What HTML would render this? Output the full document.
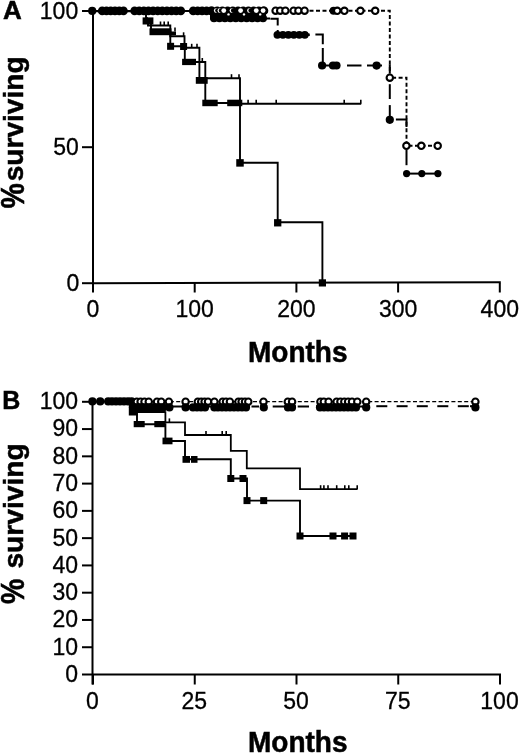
<!DOCTYPE html>
<html><head><meta charset="utf-8"><style>
html,body{margin:0;padding:0;background:#fff;}
svg{display:block;filter:blur(0.4px);}
text{font-family:"Liberation Sans", sans-serif;fill:#000;stroke:#000;stroke-width:0.3px;}
text[font-weight="bold"]{stroke-width:0.5px;}
</style></head><body>
<svg width="520" height="755" viewBox="0 0 520 755">
<line x1="93.00" y1="11.00" x2="93.00" y2="284.20" stroke="#000" stroke-width="2" stroke-linecap="butt"/>
<line x1="92.00" y1="283.20" x2="500.80" y2="282.30" stroke="#000" stroke-width="2" stroke-linecap="butt"/>
<line x1="82.00" y1="11.00" x2="93.00" y2="11.00" stroke="#000" stroke-width="2" stroke-linecap="butt"/>
<line x1="82.00" y1="147.20" x2="93.00" y2="147.20" stroke="#000" stroke-width="2" stroke-linecap="butt"/>
<line x1="82.00" y1="283.20" x2="93.00" y2="283.20" stroke="#000" stroke-width="2" stroke-linecap="butt"/>
<line x1="93.00" y1="283.00" x2="93.00" y2="292.50" stroke="#000" stroke-width="2" stroke-linecap="butt"/>
<line x1="194.70" y1="283.00" x2="194.70" y2="292.50" stroke="#000" stroke-width="2" stroke-linecap="butt"/>
<line x1="296.40" y1="283.00" x2="296.40" y2="292.50" stroke="#000" stroke-width="2" stroke-linecap="butt"/>
<line x1="398.10" y1="283.00" x2="398.10" y2="292.50" stroke="#000" stroke-width="2" stroke-linecap="butt"/>
<line x1="499.80" y1="283.00" x2="499.80" y2="292.50" stroke="#000" stroke-width="2" stroke-linecap="butt"/>
<text x="78.2" y="19" font-size="23" font-weight="normal" text-anchor="end" >100</text>
<text x="78.8" y="155" font-size="23" font-weight="normal" text-anchor="end" >50</text>
<text x="79.2" y="291" font-size="23" font-weight="normal" text-anchor="end" >0</text>
<text x="93" y="317.0" font-size="23" font-weight="normal" text-anchor="middle" >0</text>
<text x="194.7" y="317.0" font-size="23" font-weight="normal" text-anchor="middle" >100</text>
<text x="296.4" y="317.0" font-size="23" font-weight="normal" text-anchor="middle" >200</text>
<text x="398.1" y="317.0" font-size="23" font-weight="normal" text-anchor="middle" >300</text>
<text x="499.8" y="317.0" font-size="23" font-weight="normal" text-anchor="middle" >400</text>
<text x="3.0" y="19.4" font-size="26" font-weight="bold" text-anchor="start" >A</text>
<text x="0" y="0" font-size="28" font-weight="bold" class="b" transform="translate(248,362.2) scale(1,1.06)">Months</text>
<text x="0" y="0" font-size="28.5" font-weight="bold" transform="translate(23.8,208.5) rotate(-90) scale(1.0,1.19)">%</text>
<text x="0" y="0" font-size="28.1" font-weight="bold" transform="translate(22.5,181.3) rotate(-90)">surviving</text>
<path d="M309.5 10.8 H389.8 V77.7 H406.5 V145.8 H437.7" fill="none" stroke="#000" stroke-width="1.9" stroke-linecap="butt" stroke-dasharray="4 2.5"/>
<path d="M93 10.9 H211 V18.5 H270" fill="none" stroke="#000" stroke-width="2" stroke-linecap="butt"/>
<path d="M270.4 18.8 H277.7 V25.5" fill="none" stroke="#000" stroke-width="2" stroke-linecap="butt"/>
<path d="M277.7 30 V34.6 H308.7" fill="none" stroke="#000" stroke-width="2" stroke-linecap="butt"/>
<path d="M315.4 34.6 H322.8 V44.2" fill="none" stroke="#000" stroke-width="2" stroke-linecap="butt"/>
<path d="M322.8 48 V65.5 H340" fill="none" stroke="#000" stroke-width="2" stroke-linecap="butt"/>
<path d="M347 65.5 H361.5" fill="none" stroke="#000" stroke-width="2" stroke-linecap="butt"/>
<path d="M367 65.5 H382" fill="none" stroke="#000" stroke-width="2" stroke-linecap="butt"/>
<path d="M389.8 64.3 V73.3" fill="none" stroke="#000" stroke-width="2" stroke-linecap="butt"/>
<path d="M389.8 84.2 V99" fill="none" stroke="#000" stroke-width="2" stroke-linecap="butt"/>
<path d="M389.8 105.1 V119.6" fill="none" stroke="#000" stroke-width="2" stroke-linecap="butt"/>
<path d="M395.9 119.4 H406.5 V127" fill="none" stroke="#000" stroke-width="2" stroke-linecap="butt"/>
<path d="M406.5 149.8 V165.2" fill="none" stroke="#000" stroke-width="2" stroke-linecap="butt"/>
<path d="M406.5 173.6 H437.9" fill="none" stroke="#000" stroke-width="2" stroke-linecap="butt"/>
<circle cx="92.20" cy="10.90" r="4.1" fill="#000"/>
<circle cx="102.20" cy="10.90" r="4.3" fill="#000"/>
<circle cx="106.46" cy="10.90" r="4.3" fill="#000"/>
<circle cx="110.72" cy="10.90" r="4.3" fill="#000"/>
<circle cx="114.98" cy="10.90" r="4.3" fill="#000"/>
<circle cx="119.24" cy="10.90" r="4.3" fill="#000"/>
<circle cx="123.50" cy="10.90" r="4.3" fill="#000"/>
<circle cx="134.60" cy="10.90" r="4.3" fill="#000"/>
<circle cx="139.22" cy="10.90" r="4.3" fill="#000"/>
<circle cx="143.84" cy="10.90" r="4.3" fill="#000"/>
<circle cx="148.46" cy="10.90" r="4.3" fill="#000"/>
<circle cx="153.08" cy="10.90" r="4.3" fill="#000"/>
<circle cx="157.70" cy="10.90" r="4.3" fill="#000"/>
<circle cx="162.32" cy="10.90" r="4.3" fill="#000"/>
<circle cx="166.94" cy="10.90" r="4.3" fill="#000"/>
<circle cx="171.56" cy="10.90" r="4.3" fill="#000"/>
<circle cx="176.18" cy="10.90" r="4.3" fill="#000"/>
<circle cx="180.80" cy="10.90" r="4.3" fill="#000"/>
<circle cx="193.20" cy="10.90" r="4.3" fill="#000"/>
<circle cx="197.65" cy="10.90" r="4.3" fill="#000"/>
<circle cx="202.10" cy="10.90" r="4.3" fill="#000"/>
<circle cx="206.55" cy="10.90" r="4.3" fill="#000"/>
<circle cx="211.00" cy="10.90" r="4.3" fill="#000"/>
<circle cx="214.00" cy="18.30" r="4.0" fill="#000"/>
<circle cx="219.44" cy="18.30" r="4.0" fill="#000"/>
<circle cx="224.89" cy="18.30" r="4.0" fill="#000"/>
<circle cx="230.33" cy="18.30" r="4.0" fill="#000"/>
<circle cx="235.78" cy="18.30" r="4.0" fill="#000"/>
<circle cx="241.22" cy="18.30" r="4.0" fill="#000"/>
<circle cx="246.67" cy="18.30" r="4.0" fill="#000"/>
<circle cx="252.11" cy="18.30" r="4.0" fill="#000"/>
<circle cx="257.56" cy="18.30" r="4.0" fill="#000"/>
<circle cx="263.00" cy="18.30" r="4.0" fill="#000"/>
<rect x="212.00" y="11.00" width="54.00" height="7.00" fill="#000"/>
<circle cx="277.40" cy="34.80" r="3.9" fill="#000"/>
<circle cx="282.88" cy="34.80" r="3.9" fill="#000"/>
<circle cx="288.36" cy="34.80" r="3.9" fill="#000"/>
<circle cx="293.84" cy="34.80" r="3.9" fill="#000"/>
<circle cx="299.32" cy="34.80" r="3.9" fill="#000"/>
<circle cx="304.80" cy="34.80" r="3.9" fill="#000"/>
<path d="M304 34.8 L309.8 34.8" fill="none" stroke="#000" stroke-width="2.5" stroke-linecap="butt"/>
<circle cx="322.10" cy="65.50" r="4.1" fill="#000"/>
<circle cx="333.00" cy="65.50" r="4.1" fill="#000"/>
<circle cx="336.50" cy="65.50" r="4.1" fill="#000"/>
<circle cx="376.60" cy="65.60" r="4.1" fill="#000"/>
<circle cx="389.80" cy="119.80" r="4.1" fill="#000"/>
<circle cx="406.60" cy="173.60" r="3.6" fill="#000"/>
<circle cx="421.80" cy="173.60" r="3.6" fill="#000"/>
<circle cx="437.90" cy="173.60" r="3.6" fill="#000"/>
<circle cx="212.00" cy="10.70" r="4.3" fill="#000"/>
<circle cx="217.20" cy="10.70" r="4.3" fill="#000"/>
<circle cx="222.40" cy="10.70" r="4.3" fill="#000"/>
<circle cx="227.60" cy="10.70" r="4.3" fill="#000"/>
<circle cx="232.80" cy="10.70" r="4.3" fill="#000"/>
<circle cx="238.00" cy="10.70" r="4.3" fill="#000"/>
<circle cx="243.20" cy="10.70" r="4.3" fill="#000"/>
<circle cx="248.40" cy="10.70" r="4.3" fill="#000"/>
<circle cx="253.60" cy="10.70" r="4.3" fill="#000"/>
<circle cx="258.80" cy="10.70" r="4.3" fill="#000"/>
<circle cx="264.00" cy="10.70" r="4.3" fill="#000"/>
<circle cx="263.50" cy="10.70" r="4.3" fill="#000"/>
<circle cx="216.20" cy="10.60" r="2.3" fill="#fff"/>
<circle cx="217.50" cy="10.60" r="2.3" fill="#000"/>
<circle cx="219.80" cy="10.60" r="2.3" fill="#fff"/>
<circle cx="221.10" cy="10.60" r="2.3" fill="#000"/>
<circle cx="231.90" cy="10.60" r="2.3" fill="#fff"/>
<circle cx="233.20" cy="10.60" r="2.3" fill="#000"/>
<circle cx="249.40" cy="10.60" r="2.3" fill="#fff"/>
<circle cx="250.70" cy="10.60" r="2.3" fill="#000"/>
<circle cx="223.75" cy="10.60" r="2.4" fill="#fff"/>
<circle cx="240.60" cy="10.60" r="2.4" fill="#fff"/>
<circle cx="256.25" cy="10.60" r="2.4" fill="#fff"/>
<circle cx="263.10" cy="10.60" r="2.4" fill="#fff"/>
<circle cx="228.50" cy="14.40" r="1.2" fill="#fff"/>
<circle cx="244.00" cy="14.40" r="1.2" fill="#fff"/>
<circle cx="260.20" cy="14.40" r="1.2" fill="#fff"/>
<circle cx="275.60" cy="10.70" r="3.2" fill="#fff" stroke="#000" stroke-width="2.1"/>
<circle cx="280.20" cy="10.70" r="3.2" fill="#fff" stroke="#000" stroke-width="2.1"/>
<circle cx="285.40" cy="10.70" r="3.2" fill="#fff" stroke="#000" stroke-width="2.1"/>
<circle cx="293.60" cy="10.70" r="3.2" fill="#fff" stroke="#000" stroke-width="2.1"/>
<circle cx="298.40" cy="10.70" r="3.2" fill="#fff" stroke="#000" stroke-width="2.1"/>
<circle cx="304.60" cy="10.70" r="3.2" fill="#fff" stroke="#000" stroke-width="2.1"/>
<circle cx="333.60" cy="10.80" r="4.0" fill="#000"/>
<circle cx="337.20" cy="10.80" r="3.2" fill="#fff" stroke="#000" stroke-width="2.1"/>
<circle cx="344.40" cy="10.80" r="3.2" fill="#fff" stroke="#000" stroke-width="2.1"/>
<circle cx="360.40" cy="10.80" r="3.2" fill="#fff" stroke="#000" stroke-width="2.1"/>
<circle cx="375.20" cy="10.80" r="3.2" fill="#fff" stroke="#000" stroke-width="2.1"/>
<circle cx="389.80" cy="77.70" r="3.2" fill="#fff" stroke="#000" stroke-width="2.1"/>
<circle cx="406.40" cy="145.80" r="3.2" fill="#fff" stroke="#000" stroke-width="2.1"/>
<circle cx="421.30" cy="145.80" r="3.2" fill="#fff" stroke="#000" stroke-width="2.1"/>
<circle cx="437.70" cy="145.80" r="3.2" fill="#fff" stroke="#000" stroke-width="2.1"/>
<path d="M93 11.2 H146 V21 H151 V31.7 H170.3 V46.3 H184.8 V62 H205.3 V103 H240 V162.8 H277.7 V222.2 H322.4 V283" fill="none" stroke="#000" stroke-width="1.9" stroke-linecap="butt"/>
<path d="M148 21 V25.5 H170.3 V36.3 H184.5 V47.8 H199.4 V78.2 H240 V103.7 H361.2" fill="none" stroke="#000" stroke-width="1.9" stroke-linecap="butt"/>
<rect x="142.60" y="17.40" width="10.80" height="7.10" fill="#000"/>
<rect x="149.50" y="28.30" width="22.00" height="6.90" fill="#000"/>
<rect x="171.00" y="31.50" width="5.00" height="3.70" fill="#000"/>
<rect x="167.10" y="42.80" width="7" height="7" fill="#000"/>
<rect x="180.10" y="43.00" width="7" height="7" fill="#000"/>
<rect x="182.10" y="58.80" width="13.90" height="6.30" fill="#000"/>
<rect x="195.80" y="77.00" width="11.90" height="6.80" fill="#000"/>
<rect x="202.30" y="99.70" width="15.40" height="6.50" fill="#000"/>
<rect x="227.20" y="99.70" width="15.10" height="6.50" fill="#000"/>
<rect x="236.25" y="159.15" width="7.5" height="7.5" fill="#000"/>
<rect x="274.05" y="219.15" width="7.3" height="7.3" fill="#000"/>
<rect x="318.80" y="279.30" width="7.2" height="7.2" fill="#000"/>
<line x1="147.00" y1="17.00" x2="147.00" y2="21.00" stroke="#000" stroke-width="1.6" stroke-linecap="butt"/>
<line x1="160.50" y1="21.50" x2="160.50" y2="25.50" stroke="#000" stroke-width="1.6" stroke-linecap="butt"/>
<line x1="164.20" y1="21.50" x2="164.20" y2="25.50" stroke="#000" stroke-width="1.6" stroke-linecap="butt"/>
<line x1="168.20" y1="21.50" x2="168.20" y2="25.50" stroke="#000" stroke-width="1.6" stroke-linecap="butt"/>
<line x1="175.00" y1="27.50" x2="175.00" y2="31.50" stroke="#000" stroke-width="1.6" stroke-linecap="butt"/>
<line x1="183.60" y1="32.30" x2="183.60" y2="36.30" stroke="#000" stroke-width="1.6" stroke-linecap="butt"/>
<line x1="191.70" y1="43.80" x2="191.70" y2="47.80" stroke="#000" stroke-width="1.6" stroke-linecap="butt"/>
<line x1="197.00" y1="43.80" x2="197.00" y2="47.80" stroke="#000" stroke-width="1.6" stroke-linecap="butt"/>
<line x1="202.30" y1="58.00" x2="202.30" y2="62.00" stroke="#000" stroke-width="1.6" stroke-linecap="butt"/>
<line x1="231.50" y1="74.20" x2="231.50" y2="78.20" stroke="#000" stroke-width="1.6" stroke-linecap="butt"/>
<line x1="239.00" y1="74.20" x2="239.00" y2="78.20" stroke="#000" stroke-width="1.6" stroke-linecap="butt"/>
<line x1="248.10" y1="99.70" x2="248.10" y2="103.70" stroke="#000" stroke-width="1.6" stroke-linecap="butt"/>
<line x1="256.20" y1="99.70" x2="256.20" y2="103.70" stroke="#000" stroke-width="1.6" stroke-linecap="butt"/>
<line x1="276.20" y1="99.70" x2="276.20" y2="103.70" stroke="#000" stroke-width="1.6" stroke-linecap="butt"/>
<line x1="344.20" y1="99.70" x2="344.20" y2="103.70" stroke="#000" stroke-width="1.6" stroke-linecap="butt"/>
<line x1="360.80" y1="99.70" x2="360.80" y2="103.70" stroke="#000" stroke-width="1.6" stroke-linecap="butt"/>
<line x1="92.50" y1="401.80" x2="92.50" y2="684.50" stroke="#000" stroke-width="2" stroke-linecap="butt"/>
<line x1="92.00" y1="674.50" x2="501.00" y2="674.50" stroke="#000" stroke-width="2" stroke-linecap="butt"/>
<line x1="82.00" y1="674.50" x2="93.00" y2="674.50" stroke="#000" stroke-width="2" stroke-linecap="butt"/>
<text x="78.0" y="681.9" font-size="23" font-weight="normal" text-anchor="end" >0</text>
<line x1="82.00" y1="647.23" x2="93.00" y2="647.23" stroke="#000" stroke-width="2" stroke-linecap="butt"/>
<text x="78.0" y="654.63" font-size="23" font-weight="normal" text-anchor="end" >10</text>
<line x1="82.00" y1="619.96" x2="93.00" y2="619.96" stroke="#000" stroke-width="2" stroke-linecap="butt"/>
<text x="78.0" y="627.36" font-size="23" font-weight="normal" text-anchor="end" >20</text>
<line x1="82.00" y1="592.69" x2="93.00" y2="592.69" stroke="#000" stroke-width="2" stroke-linecap="butt"/>
<text x="78.0" y="600.09" font-size="23" font-weight="normal" text-anchor="end" >30</text>
<line x1="82.00" y1="565.42" x2="93.00" y2="565.42" stroke="#000" stroke-width="2" stroke-linecap="butt"/>
<text x="78.0" y="572.8199999999999" font-size="23" font-weight="normal" text-anchor="end" >40</text>
<line x1="82.00" y1="538.15" x2="93.00" y2="538.15" stroke="#000" stroke-width="2" stroke-linecap="butt"/>
<text x="78.0" y="545.55" font-size="23" font-weight="normal" text-anchor="end" >50</text>
<line x1="82.00" y1="510.88" x2="93.00" y2="510.88" stroke="#000" stroke-width="2" stroke-linecap="butt"/>
<text x="78.0" y="518.28" font-size="23" font-weight="normal" text-anchor="end" >60</text>
<line x1="82.00" y1="483.61" x2="93.00" y2="483.61" stroke="#000" stroke-width="2" stroke-linecap="butt"/>
<text x="78.0" y="491.01" font-size="23" font-weight="normal" text-anchor="end" >70</text>
<line x1="82.00" y1="456.34" x2="93.00" y2="456.34" stroke="#000" stroke-width="2" stroke-linecap="butt"/>
<text x="78.0" y="463.74" font-size="23" font-weight="normal" text-anchor="end" >80</text>
<line x1="82.00" y1="429.07" x2="93.00" y2="429.07" stroke="#000" stroke-width="2" stroke-linecap="butt"/>
<text x="78.0" y="436.47" font-size="23" font-weight="normal" text-anchor="end" >90</text>
<line x1="82.00" y1="401.80" x2="93.00" y2="401.80" stroke="#000" stroke-width="2" stroke-linecap="butt"/>
<text x="78.0" y="409.2" font-size="23" font-weight="normal" text-anchor="end" >100</text>
<line x1="93.00" y1="674.00" x2="93.00" y2="684.50" stroke="#000" stroke-width="2" stroke-linecap="butt"/>
<text x="92.5" y="709.2" font-size="23" font-weight="normal" text-anchor="middle" >0</text>
<line x1="194.75" y1="674.00" x2="194.75" y2="684.50" stroke="#000" stroke-width="2" stroke-linecap="butt"/>
<text x="194.25" y="709.2" font-size="23" font-weight="normal" text-anchor="middle" >25</text>
<line x1="296.50" y1="674.00" x2="296.50" y2="684.50" stroke="#000" stroke-width="2" stroke-linecap="butt"/>
<text x="296.0" y="709.2" font-size="23" font-weight="normal" text-anchor="middle" >50</text>
<line x1="398.25" y1="674.00" x2="398.25" y2="684.50" stroke="#000" stroke-width="2" stroke-linecap="butt"/>
<text x="397.75" y="709.2" font-size="23" font-weight="normal" text-anchor="middle" >75</text>
<line x1="500.00" y1="674.00" x2="500.00" y2="684.50" stroke="#000" stroke-width="2" stroke-linecap="butt"/>
<text x="499.5" y="709.2" font-size="23" font-weight="normal" text-anchor="middle" >100</text>
<text x="2.3" y="409.1" font-size="25" font-weight="bold" text-anchor="start" >B</text>
<text x="0" y="0" font-size="28" font-weight="bold" class="b" transform="translate(248,752.2) scale(1,1.06)">Months</text>
<text x="0" y="0" font-size="28.5" font-weight="bold" transform="translate(23.5,604) rotate(-90) scale(1.0,1.19)">%</text>
<text x="0" y="0" font-size="28.2" font-weight="bold" transform="translate(22.5,568.6) rotate(-90)">surviving</text>
<path d="M93 401.6 H475.4" fill="none" stroke="#000" stroke-width="1.4" stroke-linecap="butt" stroke-dasharray="4 2.4"/>
<path d="M93 401.6 H131" fill="none" stroke="#000" stroke-width="2" stroke-linecap="butt"/>
<path d="M131 406.6 H250" fill="none" stroke="#000" stroke-width="2" stroke-linecap="butt"/>
<path d="M251.5 406.6 H259 M272.7 406.6 H284 M284 406.6 H296 M297.7 406.6 H309 M316 406.6 H370" fill="none" stroke="#000" stroke-width="2" stroke-linecap="butt"/>
<path d="M376.3 406.2 H387.3" fill="none" stroke="#000" stroke-width="2" stroke-linecap="butt"/>
<path d="M396.6 406.2 H407.6" fill="none" stroke="#000" stroke-width="2" stroke-linecap="butt"/>
<path d="M416.8 406.2 H427.8" fill="none" stroke="#000" stroke-width="2" stroke-linecap="butt"/>
<path d="M437.3 406.2 H448.3" fill="none" stroke="#000" stroke-width="2" stroke-linecap="butt"/>
<path d="M457.8 406.2 H468.8" fill="none" stroke="#000" stroke-width="2" stroke-linecap="butt"/>
<path d="M470 406.2 H475" fill="none" stroke="#000" stroke-width="2" stroke-linecap="butt"/>
<circle cx="92.40" cy="401.40" r="4.1" fill="#000"/>
<circle cx="100.20" cy="401.40" r="4.1" fill="#000"/>
<circle cx="108.20" cy="401.40" r="4.1" fill="#000"/>
<circle cx="112.00" cy="401.40" r="4.1" fill="#000"/>
<circle cx="116.00" cy="401.40" r="4.1" fill="#000"/>
<circle cx="120.00" cy="401.40" r="4.1" fill="#000"/>
<circle cx="124.00" cy="401.40" r="4.1" fill="#000"/>
<circle cx="128.00" cy="401.40" r="4.1" fill="#000"/>
<circle cx="131.60" cy="401.40" r="4.1" fill="#000"/>
<rect x="128.80" y="404.80" width="8.70" height="10.70" fill="#000"/>
<rect x="133.00" y="405.00" width="32.40" height="7.00" fill="#000"/>
<circle cx="136.80" cy="401.70" r="3.2" fill="#fff" stroke="#000" stroke-width="2.1"/>
<circle cx="140.60" cy="401.70" r="3.2" fill="#fff" stroke="#000" stroke-width="2.1"/>
<circle cx="144.50" cy="401.70" r="3.2" fill="#fff" stroke="#000" stroke-width="2.1"/>
<circle cx="148.75" cy="401.70" r="3.2" fill="#fff" stroke="#000" stroke-width="2.1"/>
<circle cx="157.00" cy="401.70" r="3.2" fill="#fff" stroke="#000" stroke-width="2.1"/>
<circle cx="161.25" cy="401.70" r="3.2" fill="#fff" stroke="#000" stroke-width="2.1"/>
<circle cx="168.90" cy="401.70" r="3.2" fill="#fff" stroke="#000" stroke-width="2.1"/>
<circle cx="185.60" cy="401.70" r="3.2" fill="#fff" stroke="#000" stroke-width="2.1"/>
<circle cx="197.80" cy="401.70" r="3.2" fill="#fff" stroke="#000" stroke-width="2.1"/>
<circle cx="201.20" cy="401.70" r="3.2" fill="#fff" stroke="#000" stroke-width="2.1"/>
<circle cx="204.60" cy="401.70" r="3.2" fill="#fff" stroke="#000" stroke-width="2.1"/>
<circle cx="208.00" cy="401.70" r="3.2" fill="#fff" stroke="#000" stroke-width="2.1"/>
<circle cx="214.40" cy="401.70" r="3.2" fill="#fff" stroke="#000" stroke-width="2.1"/>
<circle cx="222.60" cy="401.70" r="3.2" fill="#fff" stroke="#000" stroke-width="2.1"/>
<circle cx="226.00" cy="401.70" r="3.2" fill="#fff" stroke="#000" stroke-width="2.1"/>
<circle cx="229.90" cy="401.70" r="3.2" fill="#fff" stroke="#000" stroke-width="2.1"/>
<circle cx="238.40" cy="401.70" r="3.2" fill="#fff" stroke="#000" stroke-width="2.1"/>
<circle cx="241.60" cy="401.70" r="3.2" fill="#fff" stroke="#000" stroke-width="2.1"/>
<circle cx="245.00" cy="401.70" r="3.2" fill="#fff" stroke="#000" stroke-width="2.1"/>
<circle cx="248.30" cy="401.70" r="3.2" fill="#fff" stroke="#000" stroke-width="2.1"/>
<circle cx="263.50" cy="401.70" r="3.2" fill="#fff" stroke="#000" stroke-width="2.1"/>
<circle cx="287.80" cy="401.70" r="3.2" fill="#fff" stroke="#000" stroke-width="2.1"/>
<circle cx="292.10" cy="401.70" r="3.2" fill="#fff" stroke="#000" stroke-width="2.1"/>
<circle cx="320.40" cy="401.70" r="3.2" fill="#fff" stroke="#000" stroke-width="2.1"/>
<circle cx="323.80" cy="401.70" r="3.2" fill="#fff" stroke="#000" stroke-width="2.1"/>
<circle cx="328.60" cy="401.70" r="3.2" fill="#fff" stroke="#000" stroke-width="2.1"/>
<circle cx="336.60" cy="401.70" r="3.2" fill="#fff" stroke="#000" stroke-width="2.1"/>
<circle cx="340.40" cy="401.70" r="3.2" fill="#fff" stroke="#000" stroke-width="2.1"/>
<circle cx="344.30" cy="401.70" r="3.2" fill="#fff" stroke="#000" stroke-width="2.1"/>
<circle cx="348.10" cy="401.70" r="3.2" fill="#fff" stroke="#000" stroke-width="2.1"/>
<circle cx="352.00" cy="401.70" r="3.2" fill="#fff" stroke="#000" stroke-width="2.1"/>
<circle cx="357.30" cy="401.70" r="3.2" fill="#fff" stroke="#000" stroke-width="2.1"/>
<circle cx="366.20" cy="401.70" r="3.2" fill="#fff" stroke="#000" stroke-width="2.1"/>
<circle cx="475.40" cy="401.70" r="3.2" fill="#fff" stroke="#000" stroke-width="2.1"/>
<circle cx="133.00" cy="407.40" r="4.1" fill="#000"/>
<circle cx="136.00" cy="407.40" r="4.1" fill="#000"/>
<circle cx="139.00" cy="407.40" r="4.1" fill="#000"/>
<circle cx="142.00" cy="407.40" r="4.1" fill="#000"/>
<circle cx="145.00" cy="407.40" r="4.1" fill="#000"/>
<circle cx="148.00" cy="407.40" r="4.1" fill="#000"/>
<circle cx="151.00" cy="407.40" r="4.1" fill="#000"/>
<circle cx="154.00" cy="407.40" r="4.1" fill="#000"/>
<circle cx="157.00" cy="407.40" r="4.1" fill="#000"/>
<circle cx="160.00" cy="407.40" r="4.1" fill="#000"/>
<circle cx="163.00" cy="407.40" r="4.1" fill="#000"/>
<circle cx="169.40" cy="407.40" r="4.1" fill="#000"/>
<circle cx="185.60" cy="407.40" r="4.1" fill="#000"/>
<circle cx="193.00" cy="407.40" r="4.1" fill="#000"/>
<circle cx="197.00" cy="407.40" r="4.1" fill="#000"/>
<circle cx="201.00" cy="407.40" r="4.1" fill="#000"/>
<circle cx="205.00" cy="407.40" r="4.1" fill="#000"/>
<circle cx="214.40" cy="407.40" r="4.1" fill="#000"/>
<circle cx="218.00" cy="407.40" r="4.1" fill="#000"/>
<circle cx="222.00" cy="407.40" r="4.1" fill="#000"/>
<circle cx="226.00" cy="407.40" r="4.1" fill="#000"/>
<circle cx="230.00" cy="407.40" r="4.1" fill="#000"/>
<circle cx="234.00" cy="407.40" r="4.1" fill="#000"/>
<circle cx="238.00" cy="407.40" r="4.1" fill="#000"/>
<circle cx="242.00" cy="407.40" r="4.1" fill="#000"/>
<circle cx="246.00" cy="407.40" r="4.1" fill="#000"/>
<circle cx="263.80" cy="407.40" r="4.1" fill="#000"/>
<circle cx="288.00" cy="407.40" r="4.1" fill="#000"/>
<circle cx="292.00" cy="407.40" r="4.1" fill="#000"/>
<circle cx="320.00" cy="407.40" r="4.1" fill="#000"/>
<circle cx="324.00" cy="407.40" r="4.1" fill="#000"/>
<circle cx="328.00" cy="407.40" r="4.1" fill="#000"/>
<circle cx="332.00" cy="407.40" r="4.1" fill="#000"/>
<circle cx="336.00" cy="407.40" r="4.1" fill="#000"/>
<circle cx="340.00" cy="407.40" r="4.1" fill="#000"/>
<circle cx="344.00" cy="407.40" r="4.1" fill="#000"/>
<circle cx="348.00" cy="407.40" r="4.1" fill="#000"/>
<circle cx="352.00" cy="407.40" r="4.1" fill="#000"/>
<circle cx="356.00" cy="407.40" r="4.1" fill="#000"/>
<circle cx="366.20" cy="407.40" r="4.1" fill="#000"/>
<circle cx="475.40" cy="407.40" r="4.1" fill="#000"/>
<path d="M131.5 404 V412.2 H137 V424.2 H165.4 V441 H185 V459.3 H230.8 V478.5 H247 V500.6 H300 V536 H356" fill="none" stroke="#000" stroke-width="1.9" stroke-linecap="butt"/>
<path d="M133 412.2 H165.4 V422.4 H185 V435 H230.8 V450.8 H246.8 V468.3 H300 V489.2 H357.5" fill="none" stroke="#000" stroke-width="1.8" stroke-linecap="butt"/>
<rect x="133.70" y="421.00" width="11.00" height="6.20" fill="#000"/>
<rect x="154.30" y="421.00" width="11.10" height="6.20" fill="#000"/>
<rect x="162.50" y="437.60" width="10.00" height="6.70" fill="#000"/>
<rect x="182.50" y="456.00" width="7.50" height="6.80" fill="#000"/>
<rect x="191.00" y="456.00" width="6.50" height="6.80" fill="#000"/>
<rect x="227.30" y="475.00" width="7" height="7" fill="#000"/>
<rect x="239.50" y="475.00" width="7" height="7" fill="#000"/>
<rect x="243.50" y="497.10" width="7" height="7" fill="#000"/>
<rect x="260.20" y="497.10" width="7" height="7" fill="#000"/>
<rect x="296.50" y="532.50" width="7" height="7" fill="#000"/>
<rect x="329.50" y="532.50" width="7" height="7" fill="#000"/>
<rect x="341.10" y="532.50" width="7" height="7" fill="#000"/>
<rect x="349.50" y="532.50" width="7" height="7" fill="#000"/>
<line x1="169.40" y1="418.40" x2="169.40" y2="422.40" stroke="#000" stroke-width="1.6" stroke-linecap="butt"/>
<line x1="206.00" y1="431.00" x2="206.00" y2="435.00" stroke="#000" stroke-width="1.6" stroke-linecap="butt"/>
<line x1="222.20" y1="431.00" x2="222.20" y2="435.00" stroke="#000" stroke-width="1.6" stroke-linecap="butt"/>
<line x1="226.20" y1="431.00" x2="226.20" y2="435.00" stroke="#000" stroke-width="1.6" stroke-linecap="butt"/>
<line x1="320.60" y1="485.20" x2="320.60" y2="489.20" stroke="#000" stroke-width="1.6" stroke-linecap="butt"/>
<line x1="323.90" y1="485.20" x2="323.90" y2="489.20" stroke="#000" stroke-width="1.6" stroke-linecap="butt"/>
<line x1="328.00" y1="485.20" x2="328.00" y2="489.20" stroke="#000" stroke-width="1.6" stroke-linecap="butt"/>
<line x1="336.70" y1="485.20" x2="336.70" y2="489.20" stroke="#000" stroke-width="1.6" stroke-linecap="butt"/>
<line x1="344.80" y1="485.20" x2="344.80" y2="489.20" stroke="#000" stroke-width="1.6" stroke-linecap="butt"/>
<line x1="348.80" y1="485.20" x2="348.80" y2="489.20" stroke="#000" stroke-width="1.6" stroke-linecap="butt"/>
<line x1="357.20" y1="485.20" x2="357.20" y2="489.20" stroke="#000" stroke-width="1.6" stroke-linecap="butt"/>
</svg>
</body></html>
